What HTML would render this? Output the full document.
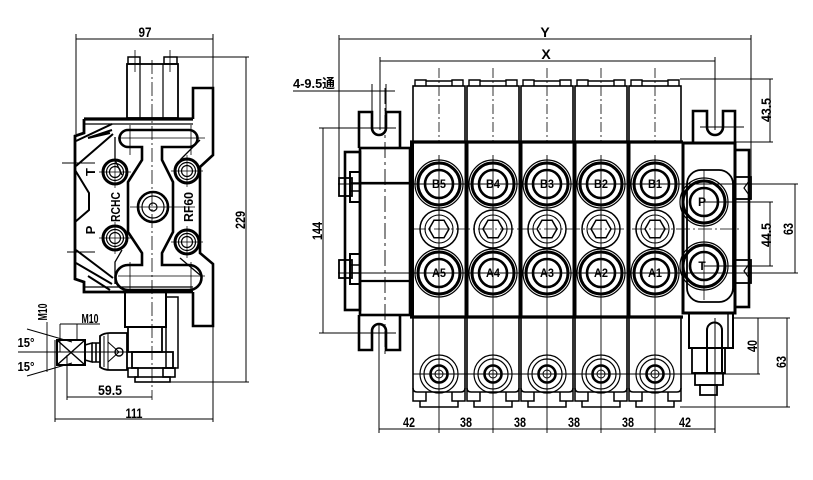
<!DOCTYPE html>
<html><head><meta charset="utf-8"><style>
html,body{margin:0;padding:0;background:#fff;}
svg{display:block;}
text{font-family:"Liberation Sans Narrow","Liberation Sans",sans-serif;font-weight:bold;fill:#000;stroke:none;}
</style></head><body>
<svg width="813" height="480" viewBox="0 0 813 480" xmlns="http://www.w3.org/2000/svg">
<defs>
<g id="sec" fill="none" stroke="#000">
  <rect x="-26" y="86" width="52" height="56" stroke-width="1.6"/>
  <path d="M-24 86V80H-13V86M13 86V80H24V86M-13 81H13" stroke-width="1.4"/>
  <line x1="0" y1="68" x2="0" y2="142" stroke-width="0.8" stroke-dasharray="10 3 2 3"/>
  <circle cx="0" cy="184" r="24" stroke-width="1.2"/>
  <circle cx="0" cy="184" r="21" stroke-width="3"/>
  <circle cx="0" cy="184" r="14" stroke-width="2.6"/>
  <circle cx="0" cy="229" r="19" stroke-width="1.5"/>
  <circle cx="0" cy="229" r="14" stroke-width="1.1"/>
  <polygon points="10,229 5,237.7 -5,237.7 -10,229 -5,220.3 5,220.3" stroke-width="1.5"/>
  <circle cx="0" cy="273" r="24" stroke-width="1.2"/>
  <circle cx="0" cy="273" r="21" stroke-width="3"/>
  <circle cx="0" cy="273" r="14" stroke-width="2.6"/>
  <path d="M-26 317V388Q-26 392 -22 392H22Q26 392 26 388V317" stroke-width="1.6"/>
  <path d="M-26 388V401H-13V392M26 388V401H13V392M-19 401V407H19V401" stroke-width="1.5"/>
  <circle cx="0" cy="374" r="19" stroke-width="1.2"/>
  <circle cx="0" cy="374" r="15" stroke-width="1.2"/>
  <circle cx="0" cy="374" r="8.5" stroke-width="2.6"/>
  <circle cx="0" cy="374" r="4" stroke-width="1"/>
  <line x1="0" y1="155" x2="0" y2="433" stroke-width="0.9"/>
</g>
<g id="lport" fill="none" stroke="#000">
  <circle r="12" stroke-width="3"/>
  <circle r="8.5" stroke-width="1.2"/>
  <circle r="5.5" stroke-width="1.2"/>
  <path d="M-16 0H16M0 -16V16" stroke-width="0.7"/>
</g>
</defs>

<!-- ================= LEFT VIEW ================= -->
<g fill="none" stroke="#000">
  <!-- 97 dimension -->
  <path d="M76 39H213M76 34V134M213 34V88" stroke-width="1"/>
  <!-- 229 dimension -->
  <path d="M246 57V382M166 57H249M166 382H249" stroke-width="1"/>
  <!-- stem -->
  <rect x="127" y="64" width="51" height="54" stroke-width="1.8"/>
  <path d="M140 64V118M163 64V118" stroke-width="1.2"/>
  <rect x="128" y="57" width="12" height="7" stroke-width="1.5"/>
  <rect x="164" y="57" width="13" height="7" stroke-width="1.5"/>
  <path d="M135 50V72M170 50V72" stroke-width="0.8"/>
  <line x1="152" y1="60" x2="152" y2="400" stroke-width="0.8" stroke-dasharray="14 3 2 3"/>
  <!-- bracket -->
  <path d="M193 119V88H213V155L200 167V253L213 264V326H193V292" stroke-width="2.6"/>
  <!-- body -->
  <path d="M84 119H193" stroke-width="3.2"/>
  <path d="M84 124H193" stroke-width="1.2"/>
  <path d="M84 119V133L75 136V279L84 282V292H193" stroke-width="2.8"/>
  <path d="M84 287H193" stroke-width="1.2"/>
  <!-- chamfer hatch top-left -->
  <path d="M112 124L76 141M112 130L88 138L110 133M113 134L76 166" stroke-width="2"/>
  <path d="M75 170L89 193V210L75 222" stroke-width="2"/>
  <!-- chamfer bottom-left -->
  <path d="M76 250L113 278M76 263L112 284M88 276L110 290" stroke-width="2"/>
  <!-- dogbone -->
  <path d="M142 147H128A8.5 8.5 0 0 1 128 130H189A8.5 8.5 0 0 1 189 147H162V160L173 182V232L162 253V265H189A12.5 12.5 0 0 1 189 290H128A12.5 12.5 0 0 1 128 265H142V253L128 232V182L142 160Z" stroke-width="2.6"/>
  <path d="M115 137V160L122 175M115 284V262L122 250M200 140L180 160M200 275L180 258" stroke-width="1.3"/>
  <path d="M118 138H205M130 125V155M191 125V155M118 276H205M130 262V290M191 262V290" stroke-width="0.8"/>
  <path d="M62 163H95M67 252H95" stroke-width="0.9"/>
  <path d="M100 150V300" stroke-width="0"/>
  <!-- ports -->
  <use href="#lport" x="115" y="172"/>
  <use href="#lport" x="187" y="171"/>
  <use href="#lport" x="115" y="238"/>
  <use href="#lport" x="187" y="242"/>
  <circle cx="153" cy="207" r="15" stroke-width="2.6"/>
  <circle cx="153" cy="207" r="11" stroke-width="1.2"/>
  <circle cx="153" cy="207" r="4" stroke-width="1.2"/>
  <path d="M130 207H195" stroke-width="0.8"/>
  <!-- lower fitting -->
  <rect x="125" y="292" width="41" height="35" stroke-width="2"/>
  <rect x="166" y="297" width="12" height="71" stroke-width="1.5"/>
  <rect x="128" y="327" width="34" height="25" stroke-width="1.8"/>
  <rect x="132" y="352" width="41" height="16" stroke-width="1.8"/>
  <rect x="128" y="368" width="10" height="9" stroke-width="1.6"/>
  <rect x="163" y="368" width="12" height="9" stroke-width="1.6"/>
  <rect x="135" y="377" width="35" height="5" stroke-width="1.6"/>
  <!-- lever -->
  <rect x="57" y="340" width="28" height="25" stroke-width="2"/>
  <path d="M57 340L85 365M57 365L85 340" stroke-width="1.4"/>
  <path d="M85 345L92 343V362L85 360M92 343H100M92 362H100M96 343V362" stroke-width="1.6"/>
  <path d="M100 336Q104 333 110 333H127V370H110Q104 370 100 367Z" stroke-width="1.8"/>
  <path d="M104 336V367M108 334V369" stroke-width="1"/>
  <circle cx="119" cy="352" r="4" stroke-width="1.4"/>
  <path d="M108 342L119 352L108 362" stroke-width="1"/>
  <!-- angle lines -->
  <path d="M27 329L72 342M27 376L72 363M18 352H132" stroke-width="1"/>
  <path d="M47 322V372M60 324V352M77 324V340M60 324H100" stroke-width="0.9"/>
  <!-- 59.5 -->
  <path d="M67 355V400M67 397H152" stroke-width="1"/>
  <!-- 111 -->
  <path d="M55 340V422M55 419H213M213 326V422" stroke-width="1"/>
</g>
<g>
  <text x="145" y="37" font-size="14" text-anchor="middle" textLength="13" lengthAdjust="spacingAndGlyphs">97</text>
  <text transform="translate(245,220) rotate(-90)" font-size="14" text-anchor="middle" textLength="18" lengthAdjust="spacingAndGlyphs">229</text>
  <text transform="translate(95,172) rotate(-90)" font-size="13" text-anchor="middle">T</text>
  <text transform="translate(95,230) rotate(-90)" font-size="13" text-anchor="middle">P</text>
  <text transform="translate(120,207) rotate(-90)" font-size="13" text-anchor="middle" textLength="30" lengthAdjust="spacingAndGlyphs">RCHC</text>
  <text transform="translate(193,207) rotate(-90)" font-size="13" text-anchor="middle" textLength="30" lengthAdjust="spacingAndGlyphs">RF60</text>
  <text transform="translate(47,312) rotate(-90)" font-size="13" text-anchor="middle" textLength="17" lengthAdjust="spacingAndGlyphs">M10</text>
  <text x="90" y="323" font-size="13" text-anchor="middle" textLength="17" lengthAdjust="spacingAndGlyphs">M10</text>
  <text x="26" y="347" font-size="13" text-anchor="middle" textLength="17" lengthAdjust="spacingAndGlyphs">15°</text>
  <text x="26" y="371" font-size="13" text-anchor="middle" textLength="17" lengthAdjust="spacingAndGlyphs">15°</text>
  <text x="110" y="395" font-size="14" text-anchor="middle" textLength="24" lengthAdjust="spacingAndGlyphs">59.5</text>
  <text x="134" y="418" font-size="14" text-anchor="middle" textLength="17" lengthAdjust="spacingAndGlyphs">111</text>
</g>

<!-- ================= RIGHT VIEW ================= -->
<g fill="none" stroke="#000">
  <!-- Y / X dimensions -->
  <path d="M339 39H751M339 35V180M751 35V177" stroke-width="1"/>
  <path d="M380 61H715M380 57V130M715 57V130" stroke-width="1"/>
  <path d="M293 91H395M372 84V130M386 84V130" stroke-width="1"/>
  <!-- 144 -->
  <path d="M323 128V333M319 128H396M319 333H396" stroke-width="1"/>
  <!-- long center lines -->
  <path d="M338 184H798M338 273H798" stroke-width="0.9"/>
  <path d="M412 229H742" stroke-width="0.8" stroke-dasharray="14 3 2 3"/>
  <path d="M413 374H760" stroke-width="0.9"/>
  <!-- sections -->
  <use href="#sec" x="439"/>
  <use href="#sec" x="493"/>
  <use href="#sec" x="547"/>
  <use href="#sec" x="601"/>
  <use href="#sec" x="655"/>
  <!-- body frame -->
  <path d="M410 142H683M410 317H683" stroke-width="3.2"/>
  <path d="M412 142V317M466.5 142V317M520.5 142V317M574.5 142V317M628.5 142V317" stroke-width="4"/>
  <!-- left end block -->
  <path d="M359 148V112H372V128A7 7 0 0 0 386 128V112H400V148" stroke-width="2.6"/>
  <path d="M359 315V350H372V331A7 7 0 0 1 386 331V350H400V315" stroke-width="2.6"/>
  <rect x="360" y="148" width="50" height="167" stroke-width="2.6"/>
  <path d="M360 183H410M360 281H410" stroke-width="2.2"/>
  <rect x="345" y="152" width="15" height="158" stroke-width="2.6"/>
  <rect x="339" y="178" width="13" height="18" stroke-width="1.8"/>
  <rect x="350" y="172" width="10" height="30" stroke-width="2"/>
  <path d="M350 183H360M350 191H360" stroke-width="1.4"/>
  <rect x="339" y="260" width="13" height="18" stroke-width="1.8"/>
  <rect x="350" y="254" width="10" height="30" stroke-width="2"/>
  <path d="M350 265H360M350 273H360" stroke-width="1.4"/>
  <line x1="385" y1="88" x2="385" y2="355" stroke-width="0.9" stroke-dasharray="16 4 3 4"/>
  <path d="M379 324V433" stroke-width="1"/>
  <!-- right end block -->
  <path d="M693 143V111H707V127A8 8 0 0 0 723 127V111H735V143" stroke-width="2.6"/>
  <path d="M700 127H744" stroke-width="0.9"/>
  <rect x="683" y="143" width="52" height="170" stroke-width="3"/>
  <rect x="687" y="170" width="46" height="132" rx="14" stroke-width="1.8"/>
  <rect x="735" y="150" width="14" height="157" stroke-width="2.6"/>
  <rect x="735" y="177" width="16" height="22" stroke-width="1.8"/>
  <path d="M749 181L744 188L749 195" stroke-width="1.2"/>
  <rect x="735" y="260" width="16" height="23" stroke-width="1.8"/>
  <path d="M749 264L744 271L749 278" stroke-width="1.2"/>
  <circle cx="704" cy="202" r="24" stroke-width="1.2"/>
  <circle cx="704" cy="202" r="21" stroke-width="3"/>
  <circle cx="704" cy="202" r="14" stroke-width="2.6"/>
  <circle cx="704" cy="266" r="24" stroke-width="1.2"/>
  <circle cx="704" cy="266" r="21" stroke-width="3"/>
  <circle cx="704" cy="266" r="14" stroke-width="2.6"/>
  <path d="M704 170V300" stroke-width="0.8"/>
  <!-- lower right fitting -->
  <rect x="689" y="313" width="44" height="35" stroke-width="2"/>
  <path d="M728 313V348" stroke-width="1.4"/>
  <rect x="692" y="348" width="33" height="25" stroke-width="1.8"/>
  <rect x="695" y="373" width="28" height="12" stroke-width="1.8"/>
  <rect x="700" y="385" width="17" height="10" stroke-width="1.8"/>
  <path d="M707 372V330A7.5 7.5 0 0 1 722 330V372" stroke-width="2"/>
  <path d="M715 318V433" stroke-width="1"/>
  <!-- right dimensions -->
  <path d="M680 79H773M735 142H773M770 79V142" stroke-width="1"/>
  <path d="M795 184V273" stroke-width="1"/>
  <path d="M704 202H773M704 266H773M770 202V266" stroke-width="1"/>
  <path d="M733 318H790M758 318V374M680 407H790M787 318V407" stroke-width="1"/>
  <!-- bottom dimension -->
  <path d="M379 429H715" stroke-width="1"/>
</g>
<g>
  <text x="545" y="37" font-size="14" text-anchor="middle">Y</text>
  <text x="546" y="59" font-size="14" text-anchor="middle">X</text>
  <text x="293" y="88" font-size="13" textLength="42" lengthAdjust="spacingAndGlyphs" style="font-family:'Liberation Sans Narrow','Liberation Sans','Noto Sans CJK SC',sans-serif">4-9.5通</text>
  <text transform="translate(322,231) rotate(-90)" font-size="14" text-anchor="middle" textLength="18" lengthAdjust="spacingAndGlyphs">144</text>
  <text transform="translate(771,110) rotate(-90)" font-size="14" text-anchor="middle" textLength="24" lengthAdjust="spacingAndGlyphs">43.5</text>
  <text transform="translate(771,235) rotate(-90)" font-size="14" text-anchor="middle" textLength="24" lengthAdjust="spacingAndGlyphs">44.5</text>
  <text transform="translate(793,229) rotate(-90)" font-size="14" text-anchor="middle" textLength="12" lengthAdjust="spacingAndGlyphs">63</text>
  <text transform="translate(757,346) rotate(-90)" font-size="14" text-anchor="middle" textLength="12" lengthAdjust="spacingAndGlyphs">40</text>
  <text transform="translate(786,362) rotate(-90)" font-size="14" text-anchor="middle" textLength="12" lengthAdjust="spacingAndGlyphs">63</text>
  <text x="409" y="427" font-size="14" text-anchor="middle" textLength="12" lengthAdjust="spacingAndGlyphs">42</text>
  <text x="466" y="427" font-size="14" text-anchor="middle" textLength="12" lengthAdjust="spacingAndGlyphs">38</text>
  <text x="520" y="427" font-size="14" text-anchor="middle" textLength="12" lengthAdjust="spacingAndGlyphs">38</text>
  <text x="574" y="427" font-size="14" text-anchor="middle" textLength="12" lengthAdjust="spacingAndGlyphs">38</text>
  <text x="628" y="427" font-size="14" text-anchor="middle" textLength="12" lengthAdjust="spacingAndGlyphs">38</text>
  <text x="685" y="427" font-size="14" text-anchor="middle" textLength="12" lengthAdjust="spacingAndGlyphs">42</text>
  <!-- port labels -->
  <g font-size="12" text-anchor="middle">
    <text x="439" y="188" textLength="14" lengthAdjust="spacingAndGlyphs">B5</text>
    <text x="493" y="188" textLength="14" lengthAdjust="spacingAndGlyphs">B4</text>
    <text x="547" y="188" textLength="14" lengthAdjust="spacingAndGlyphs">B3</text>
    <text x="601" y="188" textLength="14" lengthAdjust="spacingAndGlyphs">B2</text>
    <text x="655" y="188" textLength="14" lengthAdjust="spacingAndGlyphs">B1</text>
    <text x="439" y="277" textLength="14" lengthAdjust="spacingAndGlyphs">A5</text>
    <text x="493" y="277" textLength="14" lengthAdjust="spacingAndGlyphs">A4</text>
    <text x="547" y="277" textLength="14" lengthAdjust="spacingAndGlyphs">A3</text>
    <text x="601" y="277" textLength="14" lengthAdjust="spacingAndGlyphs">A2</text>
    <text x="655" y="277" textLength="14" lengthAdjust="spacingAndGlyphs">A1</text>
    <text x="702" y="206">P</text>
    <text x="702" y="270">T</text>
  </g>
</g>
</svg>
</body></html>
